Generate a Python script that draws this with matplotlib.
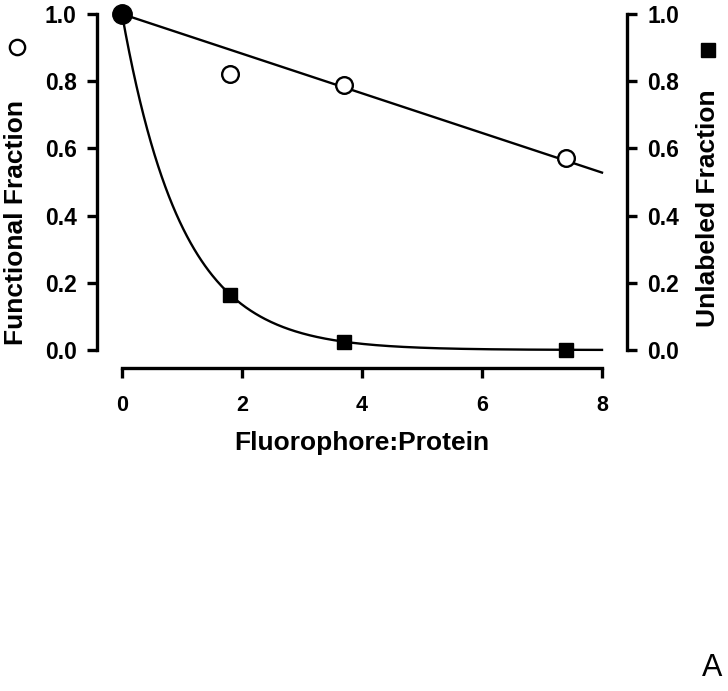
import numpy as np
import matplotlib
matplotlib.use("Agg")
import matplotlib.pyplot as plt
from matplotlib.lines import Line2D

plt.rcParams['font.family'] = ['Liberation Sans', 'DejaVu Sans']

# Data
ratio = [0.0, 1.8, 3.7, 7.4]               # Fluorophore:Protein
functional = [1.0, 0.82, 0.79, 0.57]       # open circles, left axis
unlabeled = [1.0, 0.165, 0.025, 0.0]       # filled squares, right axis
xticks = [0, 2, 4, 6, 8]
yticks = [0.0, 0.2, 0.4, 0.6, 0.8, 1.0]

# Fit parameters (linear and exponential-decay fits shown as lines)
lin_intercept, lin_slope = 1.0, -0.059
exp_k = 1.0

W, H = 728, 691
fig = plt.figure(figsize=(W / 100, H / 100), dpi=100)
ax = fig.add_axes([122 / W, 1 - 350 / H, (602 - 122) / W, (350 - 14) / H])
ax2 = ax.twinx()

for a in (ax, ax2):
    a.set_xlim(0, 8)
    a.set_ylim(0, 1)
    a.patch.set_visible(False)
    a.spines['top'].set_visible(False)

ax.spines['right'].set_visible(False)
ax2.spines['left'].set_visible(False)
ax2.spines['bottom'].set_visible(False)

lw_sp = 2.4
ax.spines['left'].set_position(('outward', 18))
ax.spines['left'].set_bounds(0, 1)
ax.spines['bottom'].set_position(('outward', 13))
ax.spines['bottom'].set_bounds(0, 8)
ax2.spines['right'].set_position(('outward', 18))
ax2.spines['right'].set_bounds(0, 1)
for s in (ax.spines['left'], ax.spines['bottom'], ax2.spines['right']):
    s.set_linewidth(lw_sp)

ax.tick_params(axis='y', length=7.5, width=lw_sp, pad=7)
ax.tick_params(axis='x', length=7.5, width=lw_sp, pad=12)
ax2.tick_params(axis='y', length=7.5, width=lw_sp, pad=7)

ax.set_xticks(xticks)
ax.set_xticklabels([str(t) for t in xticks], fontsize=15.5, fontweight='bold')
ax.set_yticks(yticks)
ax.set_yticklabels([f"{t:.1f}" for t in yticks], fontsize=16.5, fontweight='bold')
ax2.set_yticks(yticks)
ax2.set_yticklabels([f"{t:.1f}" for t in yticks], fontsize=16.5, fontweight='bold')

# Fit lines
xf = np.linspace(0, 8, 400)
ax.plot(xf, lin_intercept + lin_slope * xf, color='black', lw=1.7, clip_on=False)
ax2.plot(xf, np.exp(-exp_k * xf), color='black', lw=1.7, clip_on=False)

# Data points
ax.plot(ratio[1:], functional[1:], 'o', ms=12, mfc='white', mec='black', mew=1.7,
        clip_on=False, zorder=5)
ax2.plot(ratio[1:], unlabeled[1:], 's', ms=10.5, mfc='black', mec='black',
         clip_on=False, zorder=5)
ax2.plot(ratio[:1], unlabeled[:1], 'o', ms=14, mfc='black', mec='black',
         clip_on=False, zorder=6)

# Axis labels
fig.text(16 / W, 1 - 222 / H, "Functional Fraction", rotation=90, ha='center',
         va='center', fontsize=19, fontweight='bold')
fig.text(708 / W, 1 - 208 / H, "Unlabeled Fraction", rotation=90, ha='center',
         va='center', fontsize=19, fontweight='bold')
fig.text(362 / W, 1 - 443 / H, "Fluorophore:Protein", ha='center',
         va='center', fontsize=19, fontweight='bold')

# Symbol keys next to axis labels
fig.add_artist(Line2D([17 / W], [1 - 47 / H], marker='o', ms=11, mfc='white',
                      mec='black', mew=1.7, transform=fig.transFigure))
fig.add_artist(Line2D([708 / W], [1 - 50 / H], marker='s', ms=9.5, mfc='black',
                      mec='black', transform=fig.transFigure))

fig.text(712 / W, 1 - 668 / H, "A", ha='center', va='center', fontsize=22)

fig.savefig("out.png", dpi=100)
